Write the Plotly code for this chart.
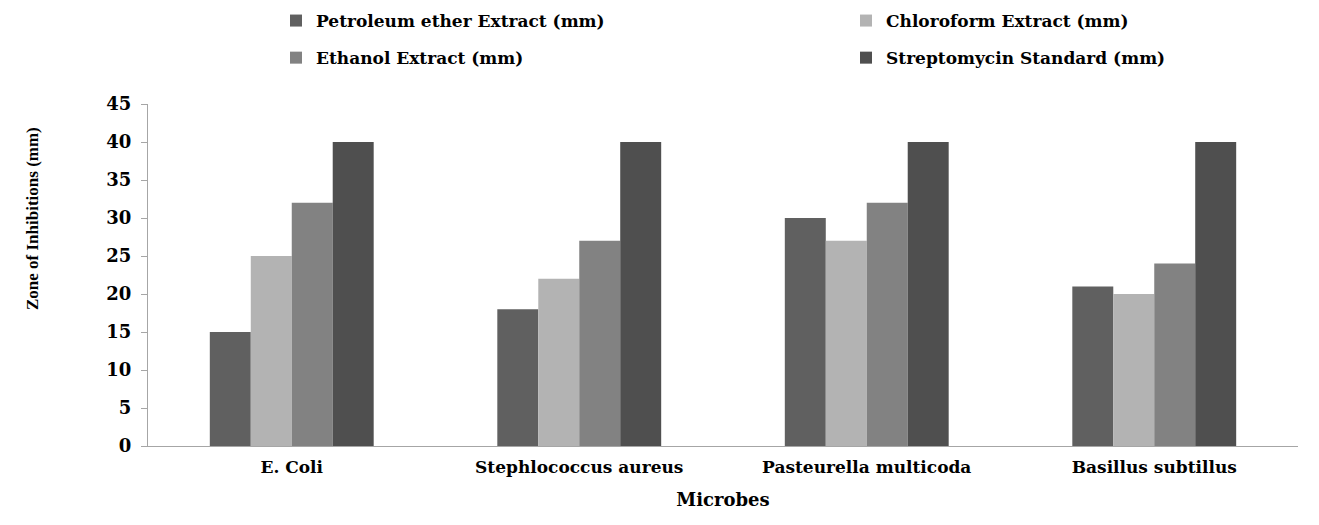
import plotly.graph_objects as go

categories = ["E. Coli", "Stephlococcus aureus", "Pasteurella multicoda", "Basillus subtillus"]
petroleum = [15, 18, 30, 21]
chloroform = [25, 22, 27, 20]
ethanol = [32, 27, 32, 24]
streptomycin = [40, 40, 40, 40]

series = [
    ("Petroleum ether Extract (mm)", petroleum, "#606060", "legend"),
    ("Chloroform Extract (mm)", chloroform, "#b3b3b3", "legend2"),
    ("Ethanol Extract (mm)", ethanol, "#828282", "legend"),
    ("Streptomycin Standard (mm)", streptomycin, "#4f4f4f", "legend2"),
]

FONT = "DejaVu Serif"
fig = go.Figure()
for name, vals, color, lg in series:
    fig.add_trace(go.Bar(
        x=categories, y=vals, name=name, legend=lg, legendgroup=name,
        marker=dict(color=color, line=dict(width=0)),
    ))

W, H = 1319, 525
l, r, t, b = 148, 21, 104, 79

legend_common = dict(
    orientation="v", xanchor="left", yanchor="top",
    xref="container", yref="container",
    y=1 - 3 / H,
    font=dict(family=FONT, size=17, color="#000", weight="bold"),
    itemwidth=30, bgcolor="rgba(0,0,0,0)", traceorder="grouped",
    tracegroupgap=12,
)

fig.update_layout(
    width=W, height=H,
    margin=dict(l=l, r=r, t=t, b=b, autoexpand=False),
    paper_bgcolor="white", plot_bgcolor="white",
    barmode="group", bargap=0.43, bargroupgap=0,
    showlegend=True,
    legend=dict(x=276 / W, **legend_common),
    legend2=dict(x=846 / W, **legend_common),
    xaxis=dict(
        showline=True, linecolor="#a6a6a6", linewidth=1,
        ticks="", showgrid=False, ticklabelstandoff=6,
        tickfont=dict(family=FONT, size=17, color="#000", weight="bold"),
        title=dict(text="Microbes", standoff=16,
                   font=dict(family=FONT, size=18, color="#000", weight="bold")),
    ),
    yaxis=dict(
        range=[0, 45], dtick=5, tick0=0,
        showline=True, linecolor="#a6a6a6", linewidth=1,
        ticks="outside", ticklen=6, tickcolor="#a6a6a6",
        showgrid=False, zeroline=False, ticklabelstandoff=6,
        tickfont=dict(family=FONT, size=18, color="#000", weight="bold"),
    ),
    annotations=[dict(
        text="Zone of Inhibitions (mm)", textangle=-90,
        xref="paper", yref="paper",
        x=(32 - l) / (W - l - r), y=(H - b - 219) / (H - t - b),
        xanchor="center", yanchor="middle", showarrow=False,
        font=dict(family="Liberation Serif", size=17, color="#000", weight="bold"),
    )],
)

fig.write_html("out.html")
